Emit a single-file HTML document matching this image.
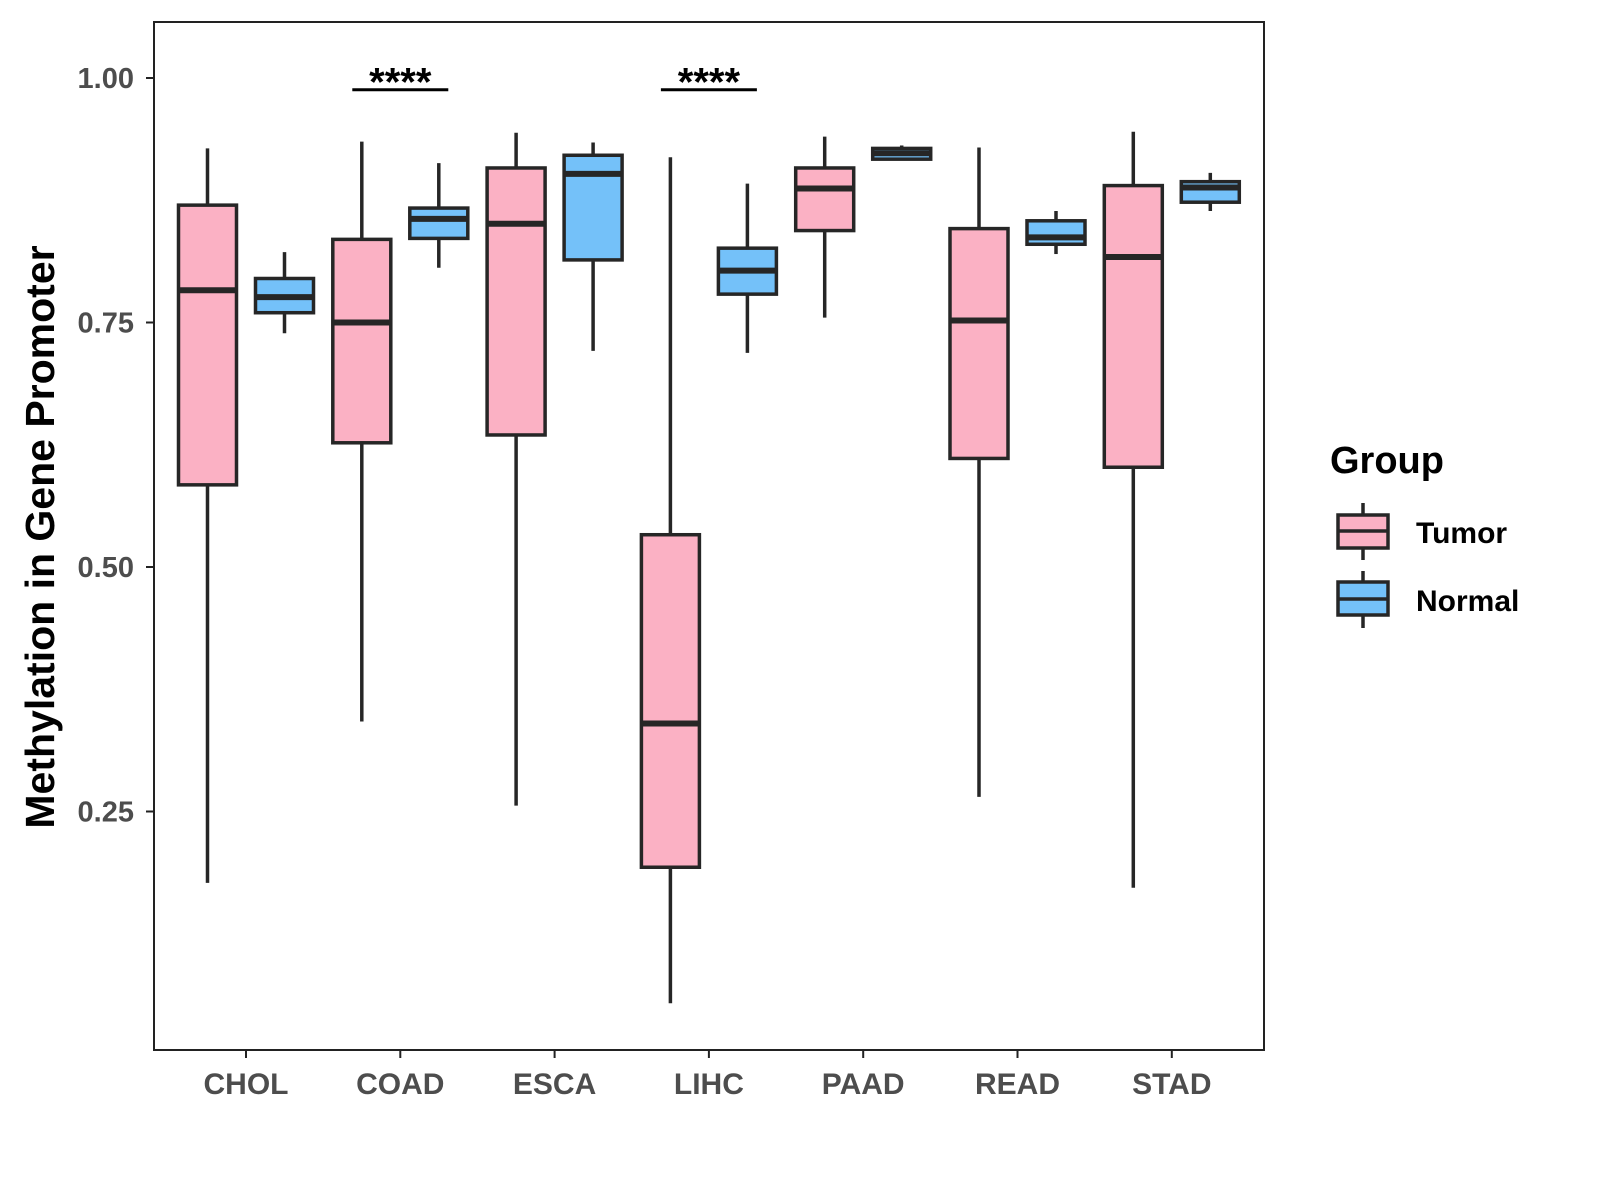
<!DOCTYPE html>
<html><head><meta charset="utf-8"><style>
html,body{margin:0;padding:0;background:#fff;}
svg{display:block;font-family:"Liberation Sans",Arial,sans-serif;}
</style></head><body>
<svg id="chart" width="1600" height="1200" viewBox="0 0 1600 1200">
<rect x="154" y="22" width="1110" height="1028" fill="#fff" stroke="#222" stroke-width="2"/>
<g id="marks"></g>
<g id="axes"></g>
<text x="0" y="0" transform="translate(54,537) rotate(-90)" text-anchor="middle" font-size="41" font-weight="bold" fill="#000">Methylation in Gene Promoter</text>
<g>
<text x="1330" y="473" font-size="38" font-weight="bold" fill="#000">Group</text>
<g>
<line x1="1363" y1="503" x2="1363" y2="560" stroke="#262626" stroke-width="3.5"/>
<rect x="1338" y="515" width="50" height="33" fill="#FBB1C4" stroke="#262626" stroke-width="3.5"/>
<line x1="1338" y1="531" x2="1388" y2="531" stroke="#262626" stroke-width="3.5"/>
<text x="1416" y="543" font-size="30" font-weight="bold" fill="#000">Tumor</text>
</g>
<g>
<line x1="1363" y1="571" x2="1363" y2="628" stroke="#262626" stroke-width="3.5"/>
<rect x="1338" y="582" width="50" height="33" fill="#74C1F9" stroke="#262626" stroke-width="3.5"/>
<line x1="1338" y1="599" x2="1388" y2="599" stroke="#262626" stroke-width="3.5"/>
<text x="1416" y="611" font-size="30" font-weight="bold" fill="#000">Normal</text>
</g>
</g>
</svg>
<script>
const categories = ["CHOL","COAD","ESCA","LIHC","PAAD","READ","STAD"];
// [whiskerTop, q3, median, q1, whiskerLow]
const tumorStats = [
 [0.928,0.870,0.783,0.584,0.177],
 [0.935,0.835,0.750,0.627,0.342],
 [0.944,0.908,0.851,0.635,0.256],
 [0.919,0.533,0.340,0.193,0.054],
 [0.940,0.908,0.887,0.844,0.755],
 [0.929,0.846,0.752,0.611,0.265],
 [0.945,0.890,0.817,0.602,0.172]
];
const normalStats = [
 [0.822,0.795,0.776,0.760,0.739],
 [0.913,0.867,0.856,0.836,0.806],
 [0.934,0.921,0.902,0.814,0.721],
 [0.892,0.826,0.803,0.779,0.719],
 [0.931,0.928,0.923,0.917,0.917],
 [0.864,0.854,0.837,0.830,0.820],
 [0.903,0.894,0.888,0.873,0.864]
];
const yTicks = [0.25,0.50,0.75,1.00];
const yTickLabels = ["0.25","0.50","0.75","1.00"];
const sigCategories = ["COAD","LIHC"];
const sigLabels = ["****","****"];
const sigLevel = 0.988;

const NS="http://www.w3.org/2000/svg";
const yScale = v => 78 + (1 - v) * 978;
const xScale = i => 246 + i * 154.3;
const marks = document.getElementById('marks');
const axes = document.getElementById('axes');
function mk(tag, attrs, parent){const e=document.createElementNS(NS,tag);for(const k in attrs)e.setAttribute(k,attrs[k]);parent.appendChild(e);return e;}

function drawBox(cx, s, fill, name){
  const g = mk('g',{},marks);
  
  
  const w=58, st="#262626";
  mk('line',{x1:cx,x2:cx,y1:yScale(s[0]),y2:yScale(s[4]),stroke:st,'stroke-width':3.5},g);
  mk('rect',{x:cx-w/2,y:yScale(s[1]),width:w,height:Math.max(0.5,yScale(s[3])-yScale(s[1])),fill:fill,stroke:st,'stroke-width':3.5},g);
  mk('line',{x1:cx-w/2,x2:cx+w/2,y1:yScale(s[2]),y2:yScale(s[2]),stroke:st,'stroke-width':6},g);
}
categories.forEach((c,i)=>{
  drawBox(xScale(i)-38.5, tumorStats[i], "#FBB1C4", "box-tumor-"+c.toLowerCase());
  drawBox(xScale(i)+38.5, normalStats[i], "#74C1F9", "box-normal-"+c.toLowerCase());
  const t=mk('line',{x1:xScale(i),x2:xScale(i),y1:1050,y2:1058,stroke:'#222','stroke-width':2},axes);
  
  
  const l=mk('text',{x:xScale(i),y:1094,'text-anchor':'middle','font-size':30,'font-weight':'bold',fill:'#4d4d4d'},axes);
  l.textContent=c;
  
  
});
yTicks.forEach((v,i)=>{
  const t=mk('line',{x1:146,x2:154,y1:yScale(v),y2:yScale(v),stroke:'#222','stroke-width':2},axes);
  
  
  const l=mk('text',{x:134,y:yScale(v)+10,'text-anchor':'end','font-size':29,'font-weight':'bold',fill:'#4d4d4d'},axes);
  l.textContent=yTickLabels[i];
  
  
});
sigCategories.forEach((c,k)=>{
  const i=categories.indexOf(c);
  const y=yScale(sigLevel);
  const ln=mk('line',{x1:xScale(i)-48,x2:xScale(i)+48,y1:y,y2:y,stroke:'#000','stroke-width':3},marks);
  
  
  const t=mk('text',{x:xScale(i),y:y+6,'text-anchor':'middle','font-size':40,'font-weight':'bold',fill:'#000'},marks);
  t.textContent=sigLabels[k];
  
  
});
</script>
</body></html>
